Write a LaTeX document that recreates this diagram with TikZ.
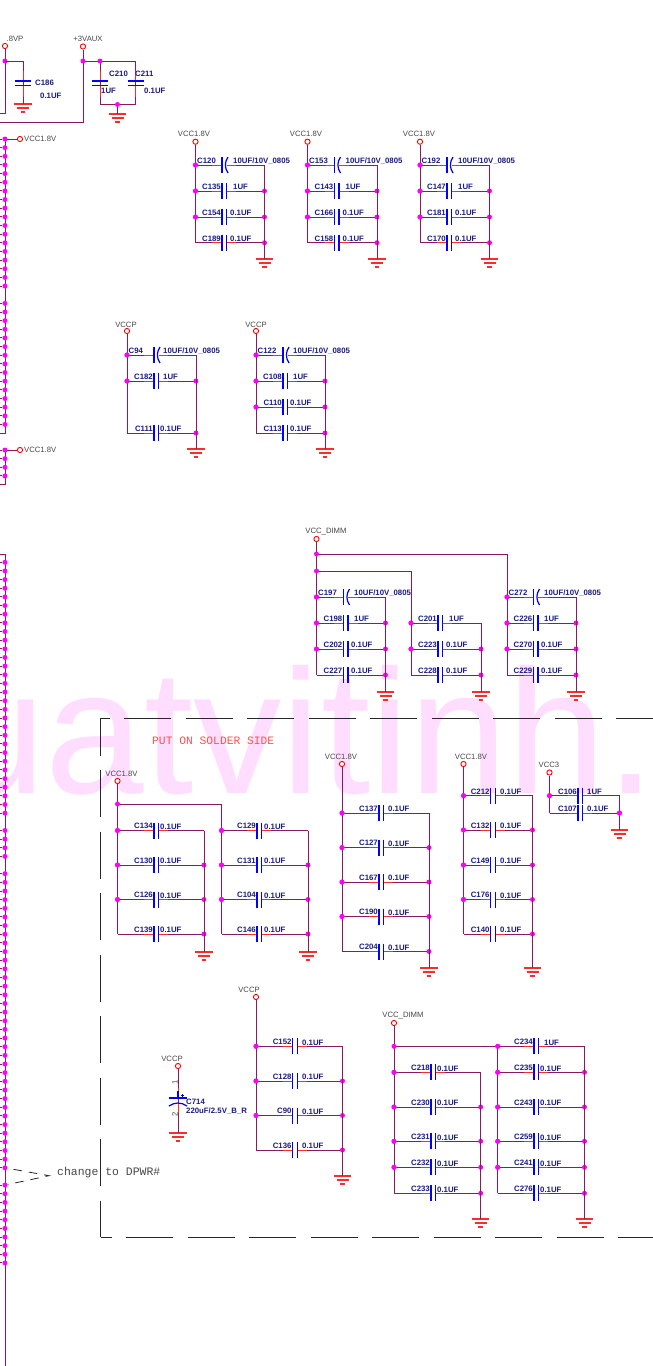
\documentclass[tikz,border=0pt]{standalone}
\usepackage{fontspec}
\setmainfont{Liberation Sans}
\newfontfamily\monof{Liberation Mono}
\definecolor{wirec}{HTML}{8A1A5F}
\definecolor{redw}{HTML}{FF2A2A}
\definecolor{navyt}{HTML}{1C1C80}
\definecolor{grayt}{HTML}{484848}
\definecolor{wmark}{HTML}{FFDDFF}
\definecolor{jmag}{HTML}{FF00FF}
\definecolor{pblue}{HTML}{0000FF}
\tikzset{
  wire/.style={draw=wirec,line width=1pt},
  redseg/.style={draw=redw,line width=1pt},
  plate/.style={draw=pblue,line width=1.2pt},
  jdot/.style={circle,fill=jmag,inner sep=0pt,minimum size=5pt},
  termn/.style={circle,draw=red,fill=white,line width=0.9pt,inner sep=0pt,minimum size=5.2pt},
  gbar/.style={draw=redw,line width=1.1pt},
  reflab/.style={font=\fontsize{7.8}{9}\selectfont\bfseries,text=navyt,inner sep=0pt},
  pwrlab/.style={font=\fontsize{7.7}{9}\selectfont,text=grayt,inner sep=0pt},
  bxline/.style={draw=black!85,line width=0.9pt,dash pattern=on 47pt off 14.5pt},
  monolab/.style={font=\monof\fontsize{11.3}{13}\selectfont,inner sep=0pt},
}
\newcounter{jc}
\newcommand\jd[2]{\stepcounter{jc}\node[jdot] (j\thejc) at (#1,#2) {};}
\newcommand\setbank[3]{\def\XL{#1}\def\XR{#2}\def\PX{#3}}
% common wire and plates of a horizontal capacitor
\newcommand\rowwire[2]{%
  \coordinate (#2L) at (\XL,#1);\coordinate (#2R) at (\XR,#1);
  \coordinate (#2a) at ({\PX-10},#1);\coordinate (#2b) at (\PX,#1);
  \coordinate (#2c) at ({\PX+4.5},#1);\coordinate (#2d) at ({\PX+14},#1);
  \draw[wire] (#2L) -- (#2b) (#2c) -- (#2R);
  \draw[redseg] (#2a) -- (#2b) (#2c) -- (#2d);
  \draw[plate] ([yshift=8pt]#2b) -- ([yshift=-8pt]#2b);
}
\newcommand\rowdots[2]{\if#2R\else\jd{\XL}{#1}\fi\if#2L\else\jd{\XR}{#1}\fi}
% plain capacitor: y, ref, value, value x, dots
\newcommand\cp[5]{\rowwire{#1}{#2}
  \draw[plate] ([yshift=8pt]#2c) -- ([yshift=-8pt]#2c);
  \node[reflab,anchor=base east] (#2) at ({\PX-1},{#1-1.7}) {#2};
  \node[reflab,anchor=base west] (#2v) at (#4,{#1-1.2}) {#3};
  \rowdots{#1}{#5}}
% polarised capacitor
\newcommand\ce[5]{\rowwire{#1}{#2}
  \draw[plate] ([xshift=6pt,yshift=8pt]#2b) .. controls ([xshift=2.5pt,yshift=3pt]#2b) and ([xshift=2.5pt,yshift=-3pt]#2b) .. ([xshift=6pt,yshift=-8pt]#2b);
  \node[reflab,anchor=base west] (#2) at ({\XL+1.5},{#1-1.7}) {#2};
  \node[reflab,anchor=base west] (#2v) at (#4,{#1-1.2}) {#3};
  \rowdots{#1}{#5}}
\newcommand\gnd[3]{\coordinate (#1) at (#2,#3);
  \draw[gbar] ([xshift=-8.7pt]#1) -- ([xshift=8.7pt]#1);
  \draw[gbar] ([xshift=-6pt,yshift=-4pt]#1) -- ([xshift=6pt,yshift=-4pt]#1);
  \draw[gbar] ([xshift=-2.4pt,yshift=-8pt]#1) -- ([xshift=2.4pt,yshift=-8pt]#1);}
\newcommand\term[6]{\node[termn] (#1) at (#2,#3) {};
  \node[pwrlab] (#1t) at (#5,#6) {#4};}
\newcommand\rails[4]{\draw[wire] (#1) -- (#2L);\draw[wire] (#3R) -- (#4);}
% vertical capacitor plates: name, x, y of first plate
\newcommand\vplates[3]{\coordinate (#1a) at (#2,#3);\coordinate (#1b) at (#2,{#3+4.5});
  \draw[redseg] ([yshift=10pt]#1a) -- (#1a) (#1b) -- ([yshift=-11pt]#1b);
  \draw[plate] ([xshift=-8pt]#1a) -- ([xshift=8pt]#1a);
  \draw[plate] ([xshift=-8pt]#1b) -- ([xshift=8pt]#1b);}
\newcommand\busdots[3]{\foreach \k in {#3}{%
  \pgfmathsetmacro\yy{#2+\k*8.65}
  \node[jdot] (#1\k) at (5,\yy) {};
  \coordinate (#1\k s) at (0,\yy);
  \draw[wire] (#1\k s) -- (#1\k);}}
\begin{document}
\begin{tikzpicture}[x=1pt,y=-1pt]
\useasboundingbox (0,0) rectangle (653,1366);
\fill[white] (0,0) rectangle (653,1366);
\clip (0,0) rectangle (653,1366);
% watermark
\node[anchor=base west,inner sep=0pt,text=wmark,font=\fontsize{177}{177}\selectfont] (wm) at (-53,793) {uatvitinh.};

% top left
\term{Tvp}{5}{46}{.8VP}{15}{39}
\coordinate (vpa) at (5,113);\coordinate (vpb) at (0,113);
\draw[wire] (Tvp) -- (vpa) -- (vpb);
\gnd{Gc186}{23}{104}
\coordinate (c186t) at (23,61);
\jd{5}{61}\coordinate (vpj) at (j\thejc);
\draw[wire] (vpj) -- (c186t) -- (Gc186);
\vplates{c186}{23}{81}
\node[reflab,anchor=west] (C186) at (35,83) {C186};
\node[reflab,anchor=west] (C186v) at (40,96) {0.1UF};

\term{Taux}{83}{46.5}{+3VAUX}{88}{39}
\coordinate (auxa) at (83,122);\coordinate (auxb) at (0,122);
\coordinate (auxc) at (135.5,61);\coordinate (auxd) at (135.5,104.5);\coordinate (auxe) at (100,104.5);
\coordinate (auxj0) at (83,61);\coordinate (auxk0) at (100,61);
\draw[wire] (Taux) -- (auxa) -- (auxb);
\draw[wire] (auxj0) -- (auxc) -- (auxd) -- (auxe) -- (auxk0);
\jd{83}{61}\jd{100}{61}
\vplates{c210}{100}{81}
\vplates{c211}{135.5}{81}
\gnd{Gaux}{117.5}{114}
\coordinate (auxg0) at (117.5,104.5);
\draw[wire] (auxg0) -- (Gaux);
\jd{117.5}{104.5}
\node[reflab,anchor=west] (C210) at (109,74) {C210};
\node[reflab,anchor=west] (C211) at (135,74) {C211};
\node[reflab,anchor=west] (C210v) at (101,91) {1UF};
\node[reflab,anchor=west] (C211v) at (144,91) {0.1UF};

% left buses
\coordinate (a0e) at (5,433);\coordinate (a0f) at (0,433);
\coordinate (a00) at (5,139);
\draw[wire] (a00) -- (a0e) -- (a0f);
\node[termn] (Ta) at (20,139) {};\node[pwrlab,anchor=west] (Tat) at (24,139) {VCC1.8V};
\draw[wire] (a00) -- (Ta);
\busdots{a}{139}{0,...,17,19,20,...,33}
\coordinate (b0e) at (5,484.7);\coordinate (b0f) at (0,484.7);
\coordinate (b00) at (5,450);
\draw[wire] (b00) -- (b0e) -- (b0f);
\node[termn] (Tb) at (20,450) {};\node[pwrlab,anchor=west] (Tbt) at (24,450) {VCC1.8V};
\draw[wire] (b00) -- (Tb);
\busdots{b}{450}{0,1,2,3}
\coordinate (c0a) at (0,554);\coordinate (c0b) at (5,554);\coordinate (c0c) at (5,1366);
\draw[wire] (c0a) -- (c0b) -- (c0c);
\busdots{c}{562.3}{0,...,29,31,32,33,34,36,37,...,70,72,73,...,81}
\coordinate (dtip) at (49,1175.7);
\draw[black!85,line width=0.8pt,dash pattern=on 8.5pt off 7pt,dash phase=9.5pt] (c70) -- (dtip) -- (c72);
\node[monolab,font=\monof\fontsize{11.45}{13}\selectfont,text=grayt,anchor=west] (chg) at (57,1173) {change to DPWR\#};

% dashed frame
\coordinate (bTL) at (100.5,718);\coordinate (bTR) at (653,718);
\coordinate (bBL) at (100.5,1237);\coordinate (bBR) at (653,1237);
\draw[bxline,dash phase=38pt] (bTL) -- (bTR);
\draw[bxline,dash phase=9.5pt] (bTL) -- (bBL);
\draw[bxline,dash phase=36pt] (bBL) -- (bBR);
\node[monolab,text={rgb,255:red,255;green,80;blue,80},anchor=west] (solder) at (152,741) {PUT ON SOLDER SIDE};

% VCC1.8V banks
\setbank{195.5}{264.5}{222}
\term{T1}{195.5}{141.7}{VCC1.8V}{194}{134}
\gnd{G1}{264.5}{259}
\ce{165}{C120}{10UF/10V\_0805}{233}{L}
\cp{191}{C135}{1UF}{233}{B}
\cp{217}{C154}{0.1UF}{230}{B}
\cp{242.7}{C189}{0.1UF}{230}{R}
\rails{T1}{C189}{C120}{G1}
\jd{195.5}{165}\jd{195.5}{191}\jd{195.5}{217}

\setbank{307.5}{377}{334.5}
\term{T2}{307.5}{141.7}{VCC1.8V}{306}{134}
\gnd{G2}{377}{259}
\ce{165}{C153}{10UF/10V\_0805}{345.5}{L}
\cp{191}{C143}{1UF}{345.5}{B}
\cp{217}{C166}{0.1UF}{342.5}{B}
\cp{242.7}{C158}{0.1UF}{342.5}{R}
\rails{T2}{C158}{C153}{G2}
\jd{307.5}{165}\jd{307.5}{191}\jd{307.5}{217}

\setbank{420}{489.5}{447}
\term{T3}{420}{141.7}{VCC1.8V}{419}{134}
\gnd{G3}{489.5}{259}
\ce{165}{C192}{10UF/10V\_0805}{458}{L}
\cp{191}{C147}{1UF}{458}{B}
\cp{217}{C181}{0.1UF}{455}{B}
\cp{242.7}{C170}{0.1UF}{455}{R}
\rails{T3}{C170}{C192}{G3}
\jd{420}{165}\jd{420}{191}\jd{420}{217}

% VCCP upper banks
\setbank{127}{196}{154}
\term{T4}{127}{331}{VCCP}{126}{325}
\gnd{G4}{196}{449}
\ce{355}{C94}{10UF/10V\_0805}{163}{L}
\cp{381}{C182}{1UF}{163}{B}
\cp{433}{C111}{0.1UF}{160}{R}
\rails{T4}{C111}{C94}{G4}
\jd{127}{355}\jd{127}{381}

\setbank{256}{325}{283}
\term{T5}{256}{331}{VCCP}{256}{325}
\gnd{G5}{325}{449}
\ce{355}{C122}{10UF/10V\_0805}{293}{L}
\cp{381}{C108}{1UF}{293}{B}
\cp{407}{C110}{0.1UF}{290}{B}
\cp{433}{C113}{0.1UF}{290}{R}
\rails{T5}{C113}{C122}{G5}
\jd{256}{355}\jd{256}{381}\jd{256}{407}

% VCC_DIMM upper banks
\term{T6}{316.5}{539}{VCC\_DIMM}{326}{532}
\coordinate (J1) at (316.5,554);\coordinate (J2) at (316.5,571);
\setbank{316.5}{385.5}{343.5}
\gnd{G6}{385.5}{692}
\ce{597}{C197}{10UF/10V\_0805}{354}{L}
\cp{623}{C198}{1UF}{354}{B}
\cp{649}{C202}{0.1UF}{351}{B}
\cp{675}{C227}{0.1UF}{351}{R}
\rails{T6}{C227}{C197}{G6}

\setbank{411}{481}{438}
\gnd{G7}{481}{692}
\cp{623}{C201}{1UF}{449}{L}
\cp{649}{C223}{0.1UF}{446}{B}
\cp{675}{C228}{0.1UF}{446}{R}
\draw[wire] (C201R) -- (G7);

\setbank{507}{576}{533.5}
\gnd{G8}{576}{692}
\ce{597}{C272}{10UF/10V\_0805}{544}{L}
\cp{623}{C226}{1UF}{544}{B}
\cp{649}{C270}{0.1UF}{541}{B}
\cp{675}{C229}{0.1UF}{541}{R}
\draw[wire] (C272R) -- (G8);
\draw[wire] (J1) -| (C229L);
\draw[wire] (J2) -| (C228L);
\jd{316.5}{554}\jd{316.5}{571}\jd{316.5}{597}\jd{507}{597}\jd{411}{623}\jd{316.5}{623}\jd{316.5}{649}\jd{411}{649}\jd{507}{623}\jd{507}{649}

% solder-side banks
\term{T9}{117.5}{781}{VCC1.8V}{121.5}{774}
\coordinate (J3) at (117.5,804);
\setbank{117.5}{204}{154}
\gnd{G9}{204}{952}
\cp{830.5}{C134}{0.1UF}{160}{L}
\cp{865}{C130}{0.1UF}{160}{B}
\cp{899.5}{C126}{0.1UF}{160}{B}
\cp{934}{C139}{0.1UF}{160}{R}
\rails{T9}{C139}{C134}{G9}

\setbank{221.5}{308}{257}
\gnd{G10}{308}{952}
\cp{830.5}{C129}{0.1UF}{264}{L}
\cp{865}{C131}{0.1UF}{264}{B}
\cp{899.5}{C104}{0.1UF}{264}{B}
\cp{934}{C146}{0.1UF}{264}{R}
\draw[wire] (C129R) -- (G10);
\draw[wire] (J3) -| (C146L);
\jd{117.5}{804}\jd{117.5}{830.5}\jd{117.5}{865}\jd{117.5}{899.5}\jd{221.5}{830.5}\jd{221.5}{865}\jd{221.5}{899.5}

\setbank{342}{429}{379}
\term{T11}{342}{764}{VCC1.8V}{341}{757}
\gnd{G11}{429}{968}
\cp{813}{C137}{0.1UF}{388}{L}
\cp{847.6}{C127}{0.1UF}{388}{B}
\cp{882}{C167}{0.1UF}{388}{B}
\cp{916.5}{C190}{0.1UF}{388}{B}
\cp{951.5}{C204}{0.1UF}{388}{R}
\rails{T11}{C204}{C137}{G11}
\jd{342}{813}\jd{342}{847.6}\jd{342}{882}\jd{342}{916.5}

\setbank{463.5}{532.5}{490.7}
\term{T12}{463.5}{764}{VCC1.8V}{471}{757}
\gnd{G12}{532.5}{968}
\cp{795.7}{C212}{0.1UF}{500}{L}
\cp{830}{C132}{0.1UF}{500}{B}
\cp{865}{C149}{0.1UF}{500}{B}
\cp{899.5}{C176}{0.1UF}{500}{B}
\cp{934}{C140}{0.1UF}{500}{R}
\rails{T12}{C140}{C212}{G12}
\jd{463.5}{795.7}\jd{463.5}{830}\jd{463.5}{865}\jd{463.5}{899.5}

\setbank{549.5}{619.5}{578}
\term{T13}{549.5}{772.5}{VCC3}{549}{765}
\gnd{G13}{619.5}{830}
\cp{795.7}{C106}{1UF}{587}{L}
\cp{813}{C107}{0.1UF}{587}{R}
\rails{T13}{C107}{C106}{G13}
\jd{549.5}{795.7}\jd{619.5}{813}

% C714
\term{T14}{178}{1066}{VCCP}{172}{1059}
\gnd{G14}{178}{1133}
\draw[wire] (T14) -- (G14);
\coordinate (c714a) at (178,1098);\coordinate (c714b) at (178,1103);
\draw[redseg] ([yshift=10pt]c714a) -- (c714a) (c714b) -- ([yshift=-10pt]c714b);
\draw[plate] ([yshift=7pt]c714a) -- (c714a);
\draw[plate] ([xshift=-9pt]c714a) -- ([xshift=9pt]c714a);
\draw[plate] ([xshift=-9pt,yshift=-3pt]c714b) .. controls ([xshift=-3pt,yshift=1pt]c714b) and ([xshift=3pt,yshift=1pt]c714b) .. ([xshift=9pt,yshift=-3pt]c714b);
\draw[plate,line width=0.5pt] (180.8,1095.5) -- (184,1095.5) (182.4,1094) -- (182.4,1097);
\node[pwrlab,rotate=90] (p1) at (175,1082) {1};
\node[pwrlab,rotate=90] (p2) at (175,1114) {2};
\node[reflab,anchor=west] (C714) at (186,1102) {C714};
\node[reflab,anchor=west] (C714v) at (186,1111) {220uF/2.5V\_B\_R};

\setbank{256}{342.5}{292.7}
\term{T15}{256}{997}{VCCP}{249}{990}
\gnd{G15}{342.5}{1176}
\cp{1046.3}{C152}{0.1UF}{302}{L}
\cp{1081}{C128}{0.1UF}{302}{B}
\cp{1115.5}{C90}{0.1UF}{302}{B}
\cp{1150}{C136}{0.1UF}{302}{R}
\rails{T15}{C136}{C152}{G15}
\jd{256}{1046.3}\jd{256}{1081}\jd{256}{1115.5}

\term{T16}{394}{1023}{VCC\_DIMM}{403}{1016}
\coordinate (J4) at (394,1046.3);
\setbank{394}{480.7}{431}
\gnd{G16}{480.7}{1219}
\cp{1072.3}{C218}{0.1UF}{437}{L}
\cp{1107}{C230}{0.1UF}{437}{B}
\cp{1141.3}{C231}{0.1UF}{437}{B}
\cp{1167.3}{C232}{0.1UF}{437}{B}
\cp{1193.3}{C233}{0.1UF}{437}{R}
\rails{T16}{C233}{C218}{G16}

\setbank{497.7}{584.5}{534}
\gnd{G17}{584.5}{1219}
\cp{1046.3}{C234}{1UF}{544}{L}
\cp{1072.3}{C235}{0.1UF}{540}{B}
\cp{1107}{C243}{0.1UF}{540}{B}
\cp{1141.3}{C259}{0.1UF}{540}{B}
\cp{1167.3}{C241}{0.1UF}{540}{B}
\cp{1193.3}{C276}{0.1UF}{540}{R}
\rails{C234L}{C276}{C234}{G17}
\draw[wire] (J4) -- (C234L);
\jd{394}{1046.3}\jd{394}{1072.3}\jd{394}{1107}\jd{394}{1141.3}\jd{394}{1167.3}
\jd{497.7}{1046.3}\jd{497.7}{1072.3}\jd{497.7}{1107}\jd{497.7}{1141.3}\jd{497.7}{1167.3}
\end{tikzpicture}
\end{document}
